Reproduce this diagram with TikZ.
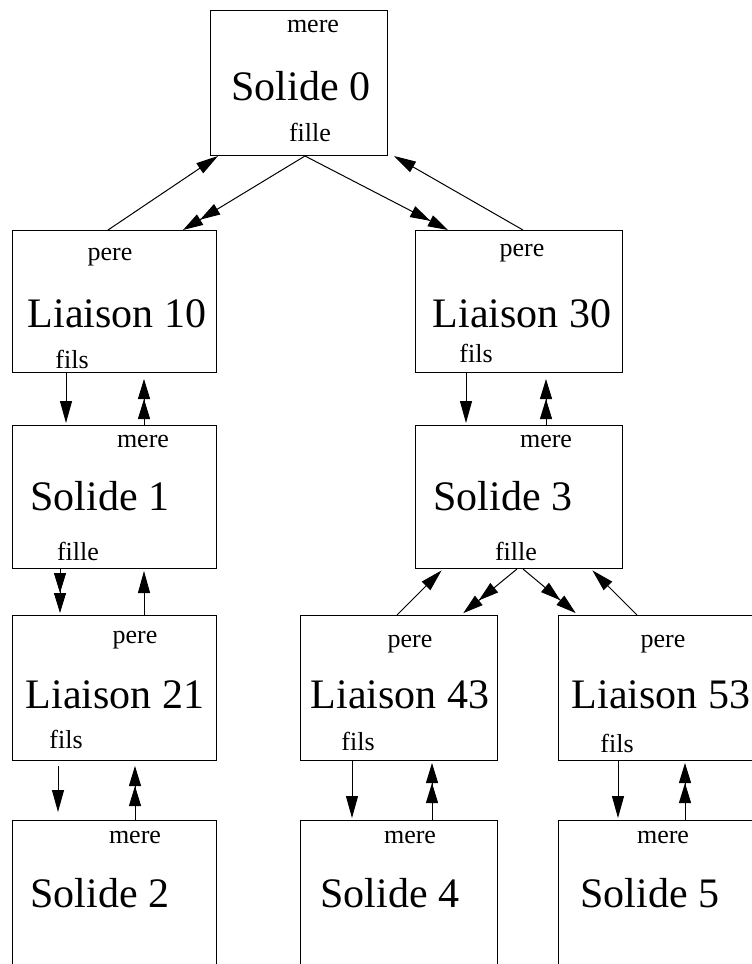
\documentclass[tikz,border=0pt]{standalone}
\usepackage{fontspec}
\setmainfont{Liberation Serif}
\usetikzlibrary{arrows.meta,calc}
\begin{document}
\begin{tikzpicture}[x=1pt, y=-1pt, line width=1pt,
    box/.style = {draw, anchor=north west, inner sep=0pt},
    big/.style = {anchor=base, font=\fontsize{42}{42}\selectfont},
    small/.style = {anchor=base, font=\fontsize{26}{26}\selectfont},
    sgl/.style = {-{Triangle[length=22pt,width=12pt]}},
    dbl/.style = {-{Triangle[length=20pt,width=12pt,sep=0pt]Triangle[length=20pt,width=12pt]}}]
\clip (0,0) rectangle (752,964);
\node[box, minimum width=177pt, minimum height=145pt] (s0) at (210,10) {};
\node[box, minimum width=204pt, minimum height=142pt] (l10) at (12,230) {};
\node[box, minimum width=207pt, minimum height=142pt] (l30) at (415,230) {};
\node[box, minimum width=204pt, minimum height=143pt] (s1) at (12,425) {};
\node[box, minimum width=207pt, minimum height=143pt] (s3) at (415,425) {};
\node[box, minimum width=204pt, minimum height=145pt] (l21) at (12,615) {};
\node[box, minimum width=197pt, minimum height=145pt] (l43) at (300,615) {};
\node[box, minimum width=210pt, minimum height=145pt] (l53) at (558,615) {};
\node[box, minimum width=204pt, minimum height=180pt] (s2) at (12,820) {};
\node[box, minimum width=197pt, minimum height=180pt] (s4) at (300,820) {};
\node[box, minimum width=210pt, minimum height=180pt] (s5) at (558,820) {};

\node[small] (s0m) at (313,32) {mere};
\node[big] (s0t) at (301,100) {Solide 0};
\node[small] (s0f) at (310,141) {fille};
\node[small] (l10p) at (110,260) {pere};
\node[big] (l10t) at (117,327) {Liaison 10};
\node[small] (l10f) at (72,368) {fils};
\node[small] (l30p) at (522,256) {pere};
\node[big] (l30t) at (522,327) {Liaison 30};
\node[small] (l30f) at (476,362) {fils};
\node[small] (s1m) at (143,447) {mere};
\node[big] (s1t) at (100,510) {Solide 1};
\node[small] (s1f) at (78,560) {fille};
\node[small] (s3m) at (546,447) {mere};
\node[big] (s3t) at (503,510) {Solide 3};
\node[small] (s3f) at (516,560) {fille};
\node[small] (l21p) at (135,643) {pere};
\node[big] (l21t) at (115,708) {Liaison 21};
\node[small] (l21f) at (66,748) {fils};
\node[small] (l43p) at (410,647) {pere};
\node[big] (l43t) at (400,708) {Liaison 43};
\node[small] (l43f) at (358,750) {fils};
\node[small] (l53p) at (663,647) {pere};
\node[big] (l53t) at (661,708) {Liaison 53};
\node[small] (l53f) at (617,752) {fils};
\node[small] (s2m) at (135,843) {mere};
\node[big] (s2t) at (100,907) {Solide 2};
\node[small] (s4m) at (410,843) {mere};
\node[big] (s4t) at (390,907) {Solide 4};
\node[small] (s5m) at (663,843) {mere};
\node[big] (s5t) at (650,907) {Solide 5};

\draw[sgl] ([xshift=96pt]l10.north west) -- ([xshift=8pt]s0.south west);
\draw[dbl] ([xshift=95pt]s0.south west) -- ([xshift=171pt]l10.north west);
\draw[dbl] ([xshift=95pt]s0.south west) -- ([xshift=33pt]l30.north west);
\draw[sgl] ([xshift=108pt]l30.north west) -- ([xshift=6pt]s0.south east);
\draw[sgl, shorten >=2pt] ([xshift=54pt]l10.south west) -- ([xshift=54pt]s1.north west);
\draw[dbl, shorten >=6pt] ([xshift=132pt]s1.north west) -- ([xshift=132pt]l10.south west);
\draw[sgl, shorten >=2pt] ([xshift=51pt]l30.south west) -- ([xshift=51pt]s3.north west);
\draw[dbl, shorten >=6pt] ([xshift=131pt]s3.north west) -- ([xshift=131pt]l30.south west);
\draw[dbl, shorten >=2pt] ([xshift=48pt]s1.south west) -- ([xshift=48pt]l21.north west);
\draw[sgl, shorten >=2pt] ([xshift=132pt]l21.north west) -- ([xshift=132pt]s1.south west);
\draw[sgl, shorten >=2pt] ([xshift=97pt]l43.north west) -- ([xshift=28pt]s3.south west);
\draw[dbl, shorten >=3pt] ([xshift=102pt]s3.south west) -- ([xshift=161pt]l43.north west);
\draw[dbl, shorten >=3pt] ([xshift=108pt]s3.south west) -- ([xshift=20pt]l53.north west);
\draw[sgl, shorten >=2pt] ([xshift=79pt]l53.north west) -- ([xshift=176pt]s3.south west);
\draw[sgl, shorten <=5pt, shorten >=8pt] ([xshift=46pt]l21.south west) -- ([xshift=46pt]s2.north west);
\draw[dbl, shorten >=5pt] ([xshift=123pt]s2.north west) -- ([xshift=123pt]l21.south west);
\draw[sgl, shorten >=2pt] ([xshift=52pt]l43.south west) -- ([xshift=52pt]s4.north west);
\draw[dbl, shorten >=2pt] ([xshift=132pt]s4.north west) -- ([xshift=132pt]l43.south west);
\draw[sgl, shorten >=2pt] ([xshift=60pt]l53.south west) -- ([xshift=60pt]s5.north west);
\draw[dbl, shorten >=2pt] ([xshift=127pt]s5.north west) -- ([xshift=127pt]l53.south west);
\end{tikzpicture}
\end{document}
